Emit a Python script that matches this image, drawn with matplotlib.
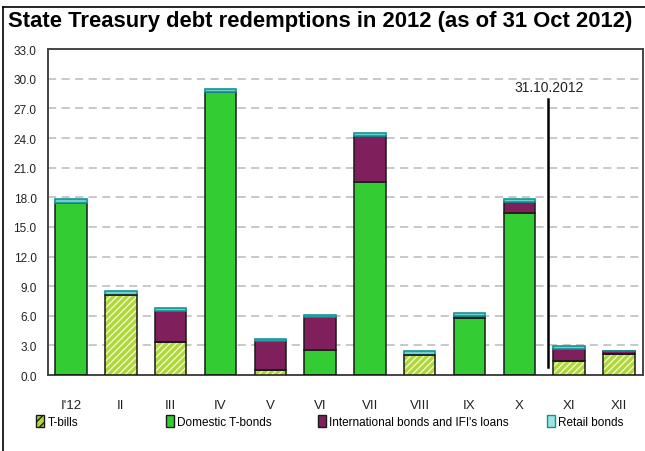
import numpy as np
import matplotlib.pyplot as plt
from matplotlib.patches import Patch
from matplotlib.lines import Line2D

months = ["I'12", "II", "III", "IV", "V", "VI", "VII", "VIII", "IX", "X", "XI", "XII"]
tbills = [0, 8.1, 3.3, 0, 0.55, 0, 0, 2.0, 0, 0, 1.4, 2.15]
domestic = [17.4, 0, 0, 28.7, 0, 2.5, 19.5, 0, 5.75, 16.4, 0, 0]
intl = [0, 0.05, 3.2, 0, 2.85, 3.35, 4.7, 0, 0.2, 1.1, 1.2, 0.25]
retail = [0.4, 0.4, 0.3, 0.3, 0.3, 0.2, 0.3, 0.4, 0.35, 0.3, 0.3, 0]
cutoff_x = 9.58
cutoff_label = "31.10.2012"

plt.rcParams['font.family'] = ['Liberation Sans', 'DejaVu Sans']
plt.rcParams['hatch.linewidth'] = 1.0

C_TB = '#afd63a'
C_DOM = '#33cc33'
C_INT = '#7f1f5c'
C_RET = '#6fd0d0'
EDGE = '#1a1a1a'

fig = plt.figure(figsize=(6.45, 4.52), dpi=100)
ax = fig.add_axes([0.074, 0.168, 0.9225, 0.721])

x = np.arange(len(months))
w = 0.63
tb = np.array(tbills)
dm = np.array(domestic)
it = np.array(intl)
rt = np.array(retail)

# T-bills: hatched fill first, outline on top
ax.bar(x, tb, w, color=C_TB, edgecolor='#eef8c8', hatch='/////', linewidth=0, zorder=3)
ax.bar(x, tb, w, color='none', edgecolor=EDGE, linewidth=1.1, zorder=4)
ax.bar(x, dm, w, bottom=tb, color=C_DOM, edgecolor=EDGE, linewidth=1.1, zorder=3)
ax.bar(x, it, w, bottom=tb + dm, color=C_INT, edgecolor=EDGE, linewidth=1.1, zorder=3)
ax.bar(x, rt, w, bottom=tb + dm + it, color=C_RET, edgecolor='#149494', linewidth=1.2, zorder=3)

ax.set_xlim(-0.47, 11.48)
ax.set_ylim(0, 33)
ax.set_yticks(np.arange(0, 34, 3))
ax.set_yticklabels([f'{v:.1f}' for v in np.arange(0, 34, 3)], fontsize=8.5, color='#222222')
ax.set_xticks(x)
ax.set_xticklabels(months, fontsize=9.5, color='#222222')
ax.tick_params(axis='both', length=0)
ax.tick_params(axis='y', pad=8)
ax.tick_params(axis='x', pad=17)

for gy in np.arange(3, 31, 3):
    ax.axhline(gy, color='#c4c4c4', linewidth=1.3, linestyle=(0, (4.5, 3)), zorder=1)

for s in ax.spines.values():
    s.set_color('#444444')
    s.set_linewidth(1.4)

# cut-off date marker
ax.plot([cutoff_x, cutoff_x], [0.8, 28.0], color='black', linewidth=1.8, zorder=5)
ax.text(cutoff_x + 0.02, 29.2, cutoff_label, ha='center', va='center', fontsize=10, color='#222222')

fig.text(0.012, 0.953, 'State Treasury debt redemptions in 2012 (as of 31 Oct 2012)',
         fontweight='bold', fontsize=15.8, ha='left', va='center', color='black')

# outer frame
fig.add_artist(Line2D([0.0047, 0.0047], [0.0, 0.982], transform=fig.transFigure, color='black', linewidth=1.2))
fig.add_artist(Line2D([0.0047, 1.0], [0.982, 0.982], transform=fig.transFigure, color='black', linewidth=1.2))

items = [
    (Patch(facecolor=C_TB, edgecolor=EDGE, hatch='////'), 'T-bills', 0.056),
    (Patch(facecolor=C_DOM, edgecolor=EDGE), 'Domestic T-bonds', 0.257),
    (Patch(facecolor=C_INT, edgecolor=EDGE), "International bonds and IFI's loans", 0.493),
    (Patch(facecolor='#9ee3e3', edgecolor='#178f8f'), 'Retail bonds', 0.848),
]
for h, lab, lx in items:
    fig.legend(handles=[h], labels=[lab], loc='center left', bbox_to_anchor=(lx, 0.066),
               frameon=False, fontsize=8.5, handlelength=0.7, handleheight=1.2,
               handletextpad=0.25, borderpad=0, borderaxespad=0)

fig.savefig('out.png', dpi=100)
